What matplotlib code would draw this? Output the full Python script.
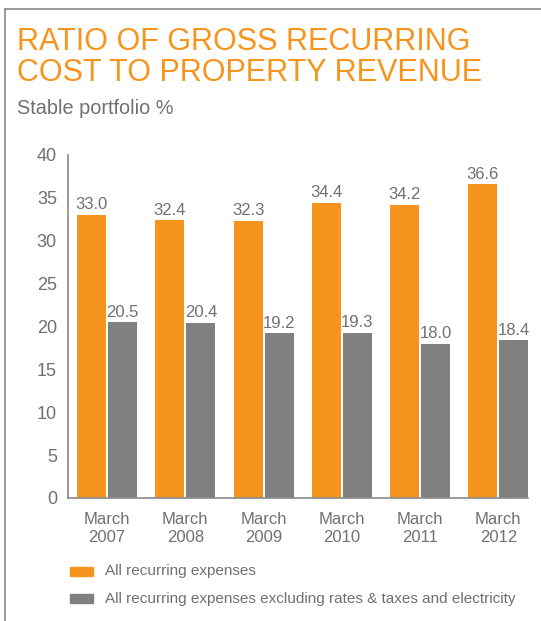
import numpy as np
import matplotlib
matplotlib.use("Agg")
import matplotlib.pyplot as plt
from matplotlib.lines import Line2D
from matplotlib.patches import Rectangle

plt.rcParams['font.family'] = ['Liberation Sans', 'DejaVu Sans']

years = ['March\n2007', 'March\n2008', 'March\n2009', 'March\n2010', 'March\n2011', 'March\n2012']
all_expenses = [33.0, 32.4, 32.3, 34.4, 34.2, 36.6]
excl_rates = [20.5, 20.4, 19.2, 19.3, 18.0, 18.4]
series_names = ['All recurring expenses',
                'All recurring expenses excluding rates & taxes and electricity']

orange = '#F7941D'
grey = '#808080'
text_grey = '#707070'

W, H = 541, 621
fig = plt.figure(figsize=(W / 100, H / 100), dpi=100)

def px(x0, y0, x1, y1):
    # pixel box (top-left origin) -> figure fraction rect
    return [x0 / W, 1 - y1 / H, (x1 - x0) / W, (y1 - y0) / H]

# outer frame: top and left rules
fig.add_artist(Line2D([5 / W, 1], [1 - 8.5 / H] * 2, color='#8a8a8a', lw=1.2))
fig.add_artist(Line2D([5 / W] * 2, [0, 1 - 8.5 / H], color='#8a8a8a', lw=1.2))

fig.text(17 / W, 1 - 27 / H, 'RATIO OF GROSS RECURRING\nCOST TO PROPERTY REVENUE',
         color=orange, fontsize=22, va='top', ha='left', linespacing=1.06)
fig.text(17 / W, 1 - 99 / H, 'Stable portfolio %', color=text_grey,
         fontsize=14.3, va='top', ha='left')

ax = fig.add_axes(px(68, 155, 528, 498))
x = np.arange(len(years))
w = 0.37
off = 0.198
b1 = ax.bar(x - off, all_expenses, w, color=orange)
b2 = ax.bar(x + off, excl_rates, w, color=grey)
for bars, vals in ((b1, all_expenses), (b2, excl_rates)):
    for r, v in zip(bars, vals):
        ax.text(r.get_x() + r.get_width() / 2, v + 0.3, f'{v:.1f}', ha='center',
                va='bottom', fontsize=12, color=text_grey)

ax.set_xlim(-0.5, 5.38)
ax.set_ylim(0, 40)
ax.set_yticks(range(0, 41, 5))
ax.set_xticks(x)
ax.set_xticklabels(years, linespacing=1.3)
ax.tick_params(length=0, labelcolor=text_grey)
ax.tick_params(axis='y', pad=8, labelsize=13)
ax.tick_params(axis='x', pad=10, labelsize=12)
for s in ('top', 'right'):
    ax.spines[s].set_visible(False)
for s in ('left', 'bottom'):
    ax.spines[s].set_color('#8a8a8a')
    ax.spines[s].set_linewidth(1.2)

# legend drawn as swatches + labels
for i, (c, name) in enumerate(zip((orange, grey), series_names)):
    y = 567 + i * 27
    fig.add_artist(Rectangle((70 / W, 1 - (y + 9) / H), 23 / W, 9 / H,
                             transform=fig.transFigure, color=c))
    fig.text(105 / W, 1 - (y + 4.5) / H, name, color=text_grey,
             fontsize=11, va='center', ha='left')

fig.savefig('out.png', dpi=100)
